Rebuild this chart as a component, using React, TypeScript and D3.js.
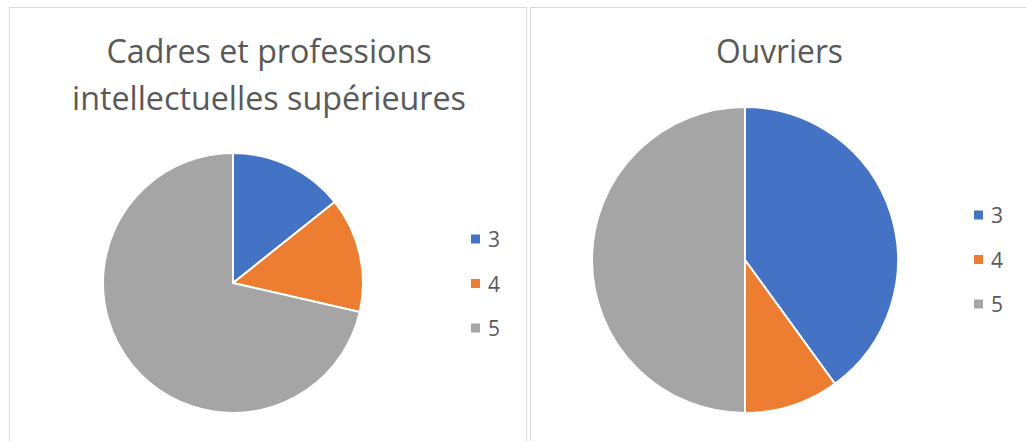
import React from "react";
import * as d3 from "d3";

const categories = ["3", "4", "5"];
const cadresValues = [1, 1, 5];
const ouvriersValues = [4, 1, 5];
const colors = ["#4472C4", "#ED7D31", "#A5A5A5"];

const FONT = "'Open Sans', 'Noto Sans', sans-serif";
const TEXT = "#595959";

function Pie({ values, cx, cy, r }: { values: number[]; cx: number; cy: number; r: number }) {
  const pie = d3.pie<number>().sort(null)(values);
  const arc = d3.arc<d3.PieArcDatum<number>>().innerRadius(0).outerRadius(r);
  return (
    <g transform={`translate(${cx},${cy})`}>
      {pie.map((d, i) => (
        <path key={i} d={arc(d) || ""} fill={colors[i]} stroke="#fff" strokeWidth={2} strokeLinejoin="round" />
      ))}
    </g>
  );
}

function Legend({ x, y, step }: { x: number; y: number; step: number }) {
  return (
    <g>
      {categories.map((c, i) => (
        <g key={c} transform={`translate(${x},${y + i * step})`}>
          <rect x={0} y={-4.5} width={9} height={9} fill={colors[i]} />
          <text x={17} y={1} dy="0.35em" fontSize={21} fill={TEXT} fontFamily={FONT}>
            {c}
          </text>
        </g>
      ))}
    </g>
  );
}

export default function App() {
  return (
    <svg width={1026} height={441} style={{ position: "absolute", left: 0, top: 0, background: "#fff" }}>
      <rect x={9.5} y={7.5} width={517} height={460} fill="#fff" stroke="#d9d9d9" />
      <rect x={530.5} y={7.5} width={520} height={460} fill="#fff" stroke="#d9d9d9" />

      <text x={269} y={63} textAnchor="middle" fontSize={32} fill={TEXT} fontFamily={FONT} textLength={325} lengthAdjust="spacingAndGlyphs">
        Cadres et professions
      </text>
      <text x={269} y={110} textAnchor="middle" fontSize={32} fill={TEXT} fontFamily={FONT} textLength={394} lengthAdjust="spacingAndGlyphs">
        intellectuelles supérieures
      </text>
      <Pie values={cadresValues} cx={233} cy={283} r={130} />
      <Legend x={471} y={239} step={44.5} />

      <text x={779.5} y={63} textAnchor="middle" fontSize={32} fill={TEXT} fontFamily={FONT} textLength={127} lengthAdjust="spacingAndGlyphs">
        Ouvriers
      </text>
      <Pie values={ouvriersValues} cx={745} cy={260} r={153} />
      <Legend x={974} y={215} step={44.5} />
    </svg>
  );
}
